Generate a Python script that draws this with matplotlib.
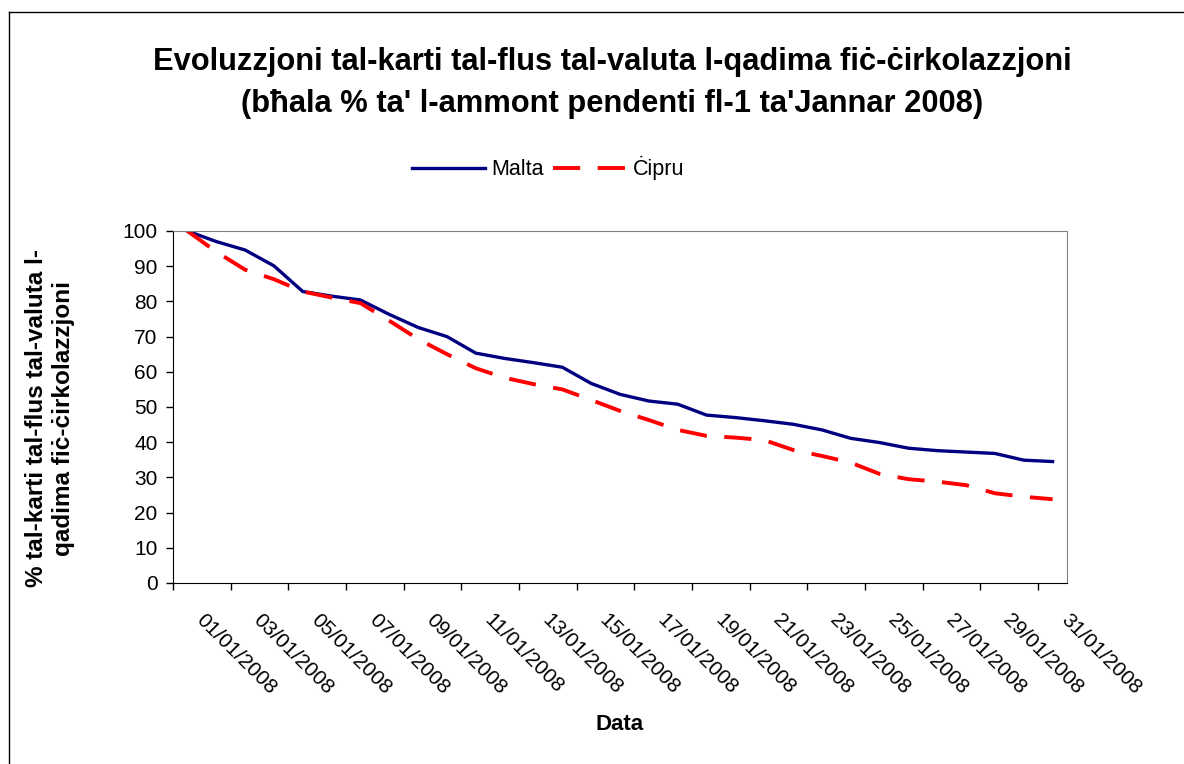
import numpy as np
import matplotlib.pyplot as plt
import matplotlib.transforms as mtransforms
from matplotlib.lines import Line2D

plt.rcParams['font.family'] = ['Liberation Sans', 'DejaVu Sans']

# daily values, % of amount outstanding on 1 Jan 2008
dates = [f"{d:02d}/01/2008" for d in range(1, 32)]
malta = [100, 97.0, 94.6, 90.1, 82.8, 81.5, 80.4, 76.3, 72.6, 70.0, 65.3,
         63.8, 62.6, 61.3, 56.7, 53.6, 51.7, 50.8, 47.7, 47.0, 46.1, 45.1,
         43.5, 41.1, 39.9, 38.3, 37.6, 37.2, 36.8, 34.9, 34.5]
cipru = [100, 94.1, 89.0, 86.3, 82.8, 81.1, 79.5, 74.5, 69.3, 65.0, 61.0,
         58.3, 56.5, 55.0, 52.0, 48.9, 46.3, 43.5, 41.8, 41.3, 40.6, 37.8,
         36.1, 34.2, 31.0, 29.5, 28.8, 27.8, 25.5, 24.5, 23.8]

W, H = 1184, 764
fig = plt.figure(figsize=(W / 100, H / 100), dpi=100)
ax = fig.add_axes([173 / W, 1 - 583 / H, (1067 - 173) / W, (583 - 231) / H])

x = np.arange(len(dates))
l1, = ax.plot(x, malta, color='#000080', lw=2.4, solid_joinstyle='round')
l2, = ax.plot(x, cipru, color='#FF0000', lw=2.8, dashes=(7, 4.5),
              dash_capstyle='butt')

ax.set_xlim(-0.5, len(dates) - 0.5)
ax.set_ylim(0, 100)
ax.set_yticks(np.arange(0, 101, 10))
ax.tick_params(axis='y', labelsize=15, length=5, pad=6, width=1)

# labels every second day, tick marks between categories
ax.set_xticks(x[::2])
ax.set_xticklabels(dates[::2], rotation=-45, ha='left', va='top',
                   rotation_mode='anchor', fontsize=15)
ax.set_xticks(np.arange(-0.5, len(dates) - 0.5, 2), minor=True)
ax.tick_params(axis='x', which='major', length=0, pad=20)
ax.tick_params(axis='x', which='minor', length=5, width=1)
off = mtransforms.ScaledTranslation(18 / 100, 0, fig.dpi_scale_trans)
for lab in ax.get_xticklabels():
    lab.set_transform(lab.get_transform() + off)

for s in ['top', 'right']:
    ax.spines[s].set_color('#808080')
for s in ['left', 'bottom']:
    ax.spines[s].set_color('black')

fig.text(612 / W, 1 - 62 / H,
         "Evoluzzjoni tal-karti tal-flus tal-valuta l-qadima fiċ-ċirkolazzjoni",
         ha='center', va='center', fontsize=22.2, fontweight='bold')
fig.text(612 / W, 1 - 104 / H,
         "(bħala % ta' l-ammont pendenti fl-1 ta'Jannar 2008)",
         ha='center', va='center', fontsize=22.2, fontweight='bold')

fig.legend([l1, l2], ['Malta', 'Ċipru'], loc='center',
           bbox_to_anchor=(548 / W, 1 - 168 / H), ncol=2, frameon=False,
           fontsize=15.5, handlelength=3.4, handletextpad=0.3,
           columnspacing=0.4)

fig.text(50 / W, 1 - 418 / H,
         "% tal-karti tal-flus tal-valuta l-\nqadima fiċ-ċirkolazzjoni",
         rotation=90, ha='center', va='center', multialignment='center',
         fontsize=17.5, fontweight='bold', linespacing=1.25)
fig.text(620 / W, 1 - 725 / H, "Data", ha='center', va='center',
         fontsize=16, fontweight='bold')

# outer chart border (only top and left visible)
fig.add_artist(Line2D([9 / W, 9 / W], [0, 1 - 12 / H], color='black', lw=1))
fig.add_artist(Line2D([9 / W, 1], [1 - 12 / H, 1 - 12 / H], color='black', lw=1))

fig.savefig("out.png", dpi=100)
